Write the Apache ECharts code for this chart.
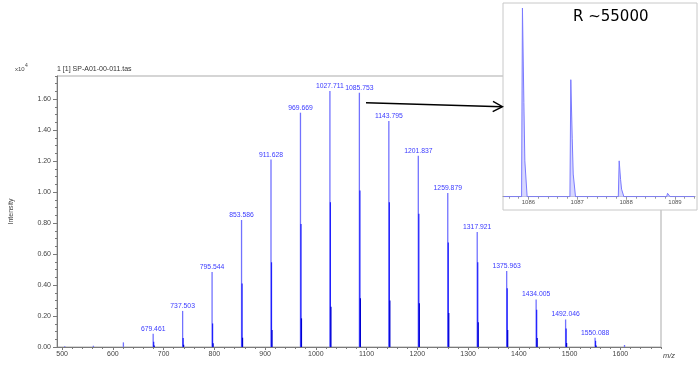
<!DOCTYPE html>
<html><head><meta charset="utf-8">
<script src="https://cdn.jsdelivr.net/npm/echarts@6/dist/echarts.min.js"></script>
<style>html,body{margin:0;padding:0;background:#fff}#c{width:700px;height:365px}</style>
</head><body><div id="c"></div>
<script>
// ---- data (intensity in units of 10^4) ----
const peakMz  = [679.461, 737.503, 795.544, 853.586, 911.628, 969.669, 1027.711, 1085.753, 1143.795, 1201.837, 1259.879, 1317.921, 1375.963, 1434.005, 1492.046, 1550.088];
const peakInt = [0.085, 0.233, 0.484, 0.820, 1.210, 1.513, 1.653, 1.642, 1.460, 1.235, 0.995, 0.742, 0.490, 0.307, 0.178, 0.060];
const iso1Int = [0.034, 0.058, 0.152, 0.410, 0.547, 0.795, 0.935, 1.010, 0.935, 0.860, 0.675, 0.547, 0.380, 0.240, 0.120, 0.040];
const iso2Int = [0.010, 0.015, 0.025, 0.060, 0.110, 0.185, 0.260, 0.315, 0.300, 0.283, 0.220, 0.160, 0.110, 0.058, 0.026, 0.010];
const smallMz  = [505.2, 561.7, 620.8, 1608.1];
const smallInt = [0.005, 0.008, 0.030, 0.013];
const isotopeSpacing = 1.003;
const xTickLabels = [500, 600, 700, 800, 900, 1000, 1100, 1200, 1300, 1400, 1500, 1600];
const yTickLabels = [0, 0.2, 0.4, 0.6, 0.8, 1.0, 1.2, 1.4, 1.6];
// inset (zoom of 1085.753 cluster), relative intensity %
const insetMz  = [1085.50, 1085.860, 1085.878, 1085.884, 1085.907, 1085.927, 1085.974,
                  1086.850, 1086.868, 1086.874, 1086.897, 1086.917, 1086.964,
                  1087.840, 1087.858, 1087.864, 1087.887, 1087.907, 1087.954,
                  1088.830, 1088.848, 1088.854, 1088.877, 1088.900, 1089.40];
const insetInt = [0, 0, 100, 100, 50, 19, 0,
                  0, 62, 62, 31, 12, 0,
                  0, 19, 19, 9, 4, 0,
                  0, 1.8, 1.8, 0.9, 0, 0];
const insetTickLabels = [1086, 1087, 1088, 1089];

// ---- build ----
const FONT = '"Liberation Sans", Arial, sans-serif';
const stickColors = ['#7272ff', '#1f1fff', '#0000d0'];
const stickWidths = [1.3, 1.2, 1.2];
const series = [];
// one custom series per isotope level so colours are set per series
const levels = [peakInt, iso1Int, iso2Int];
levels.forEach((arr, k) => {
  const data = peakMz.map((m, i) => [m + k * isotopeSpacing, arr[i], i]);
  if (k === 0) smallMz.forEach((m, i) => data.push([m, smallInt[i], -1]));
  series.push({
    type: 'custom', xAxisIndex: 0, yAxisIndex: 0, data: data, z: 2 + k,
    itemStyle: {color: stickColors[k]},
    renderItem: function (params, api) {
      const m = api.value(0), h = api.value(1), li = api.value(2);
      const p0 = api.coord([m, 0]), p1 = api.coord([m, h]);
      const children = [{type: 'line', shape: {x1: p0[0], y1: p0[1], x2: p1[0], y2: p1[1]},
                         style: {stroke: stickColors[k], lineWidth: stickWidths[k], fill: null}}];
      if (k === 0 && li >= 0) {
        children.push({type: 'text', style: {text: peakMz[li].toFixed(3), x: p1[0], y: p1[1] - 1.5,
          align: 'center', verticalAlign: 'bottom', fill: '#3a3aff', font: '6.8px ' + FONT}});
      }
      return {type: 'group', children: children};
    }
  });
});

const xMinor = []; for (let v = 500; v <= 1680; v += 20) xMinor.push(v);
const yMinor = []; for (let k = 0; k <= 35; k++) yMinor.push(+(k * 0.05).toFixed(2));
const insetMinor = []; for (let k = 0; k <= 19; k++) insetMinor.push(+(1085.6 + k * 0.2).toFixed(1));
const insetData = insetMz.map((m, i) => [m, insetInt[i]]);
const plain = v => String(v);

series.push({type: 'line', xAxisIndex: 2, yAxisIndex: 2, data: insetData, z: 12,
  showSymbol: false, symbol: 'none',
  lineStyle: {color: '#7a7aff', width: 1},
  areaStyle: {color: '#d4d4ff', opacity: 0.9}});

const chart = echarts.init(document.getElementById('c'), null, {renderer: 'canvas'});
chart.setOption({
  animation: false,
  backgroundColor: '#fff',
  textStyle: {fontFamily: FONT},
  grid: [
    {left: 56, top: 76, width: 605, height: 271, show: true, borderColor: '#ababab', borderWidth: 1, backgroundColor: 'transparent'},
    {left: 503, top: 8, width: 192, height: 188.7}
  ],
  xAxis: [
    {type: 'value', gridIndex: 0, min: 490, max: 1680,
     name: 'm/z', nameLocation: 'end', nameGap: 2,
     nameTextStyle: {fontStyle: 'italic', fontSize: 7.5, color: '#444', verticalAlign: 'top', align: 'left', padding: [5, 0, 0, 0], fontFamily: FONT},
     axisLine: {lineStyle: {color: '#7a7a7a', width: 1}},
     axisTick: {customValues: xTickLabels, length: 3, lineStyle: {color: '#7a7a7a'}},
     axisLabel: {customValues: xTickLabels, fontSize: 7, color: '#444', margin: 4, fontFamily: FONT, formatter: plain},
     splitLine: {show: false}},
    {type: 'value', gridIndex: 0, min: 490, max: 1680, position: 'bottom',
     axisLine: {show: false},
     axisTick: {customValues: xMinor, length: 2, lineStyle: {color: '#7a7a7a'}},
     axisLabel: {show: false}, splitLine: {show: false}},
    {type: 'value', gridIndex: 1, min: 1085.48, max: 1089.41, z: 10,
     axisLine: {lineStyle: {color: '#9a9a9a'}},
     axisTick: {customValues: insetTickLabels, length: 3, lineStyle: {color: '#9a9a9a'}},
     axisLabel: {customValues: insetTickLabels, fontSize: 6, color: '#555', margin: 3, fontFamily: FONT, formatter: plain},
     splitLine: {show: false}},
    {type: 'value', gridIndex: 1, min: 1085.48, max: 1089.41, z: 10, position: 'bottom',
     axisLine: {show: false},
     axisTick: {customValues: insetMinor, length: 2, lineStyle: {color: '#9a9a9a'}},
     axisLabel: {show: false}, splitLine: {show: false}}
  ],
  yAxis: [
    {type: 'value', gridIndex: 0, min: 0, max: 1.75,
     name: 'Intensity', nameLocation: 'middle', nameRotate: 90, nameGap: 42,
     nameTextStyle: {fontSize: 7, color: '#444', fontFamily: FONT},
     axisLine: {show: true, lineStyle: {color: '#7a7a7a'}},
     axisTick: {show: true, customValues: yTickLabels, length: 4, lineStyle: {color: '#7a7a7a'}},
     axisLabel: {customValues: yTickLabels, fontSize: 7, color: '#444', margin: 6, fontFamily: FONT,
                 formatter: v => v.toFixed(2)},
     splitLine: {show: false}},
    {type: 'value', gridIndex: 0, min: 0, max: 1.75, position: 'left',
     axisLine: {show: false},
     axisTick: {show: true, customValues: yMinor, length: 2, lineStyle: {color: '#7a7a7a'}},
     axisLabel: {show: false}, splitLine: {show: false}},
    {type: 'value', gridIndex: 1, min: 0, max: 100, show: false}
  ],
  series: series,
  graphic: [
    {type: 'rect', z: 5, shape: {x: 503, y: 3, width: 194, height: 207},
     style: {fill: '#fff', stroke: '#c8c8c8', lineWidth: 1}},
    {type: 'text', z: 20, left: 573, top: 10, style: {text: 'R ~55000', fill: '#000', font: '15px "DejaVu Sans", Verdana, sans-serif'}},
    {type: 'text', z: 20, left: 15, top: 66, style: {text: 'x10', fill: '#444', font: '6px ' + FONT}},
    {type: 'text', z: 20, left: 25, top: 63, style: {text: '4', fill: '#444', font: '5px ' + FONT}},
    {type: 'text', z: 20, left: 57, top: 66, style: {text: '1 [1] SP-A01-00-011.tas', fill: '#333', font: '7px ' + FONT}},
    {type: 'polyline', z: 20, shape: {points: [[366, 102.7], [502, 106.7]]}, style: {stroke: '#000', lineWidth: 1.4, fill: null}},
    {type: 'polyline', z: 20, shape: {points: [[493, 101.3], [502.5, 106.7], [492.7, 111.7]]}, style: {stroke: '#000', lineWidth: 1.4, fill: null}}
  ]
});
</script></body></html>
